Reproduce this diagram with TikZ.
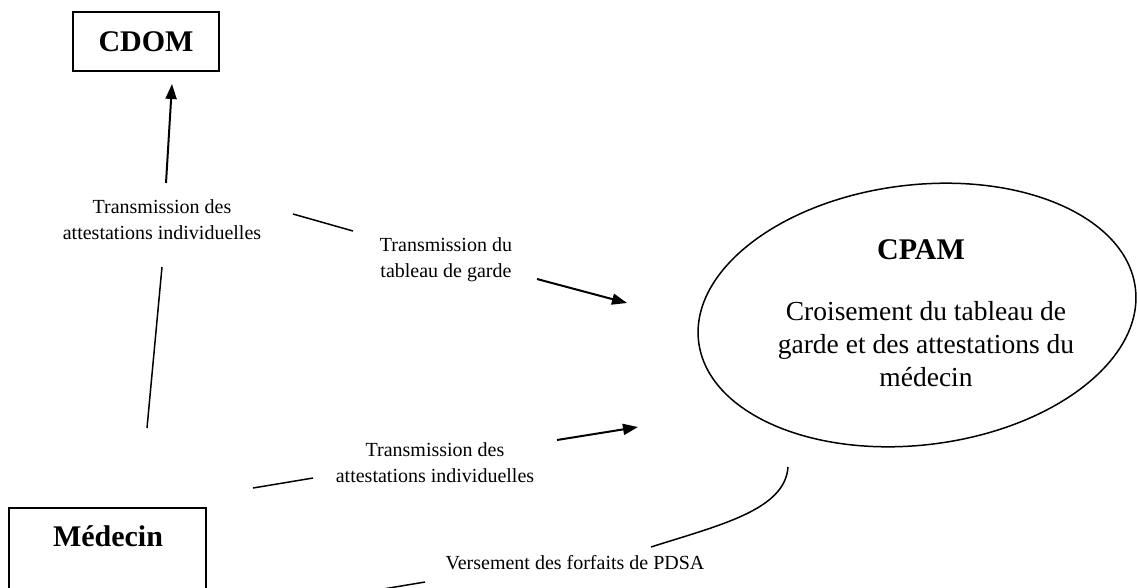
\documentclass[tikz,border=0pt]{standalone}
\usepackage{fontspec}
\setmainfont{Liberation Serif}
\usetikzlibrary{arrows.meta,shapes.geometric}
\begin{document}
\begin{tikzpicture}[x=1pt,y=-1pt,
  box/.style={draw, line width=1.6pt, inner sep=0pt},
  title/.style={font=\fontsize{30}{36}\selectfont\bfseries, inner sep=0pt},
  lbl/.style={font=\fontsize{20}{26}\selectfont, align=center, inner sep=0pt},
  body/.style={font=\fontsize{27.5}{33}\selectfont, align=center, inner sep=0pt},
  link/.style={line width=1.5pt},
  arr/.style={line width=2pt, -{Triangle[length=15pt,width=11pt]}}]
\useasboundingbox (0,0) rectangle (1137,587);
\clip (0,0) rectangle (1137,587);

% Nodes
\node[box, minimum width=146pt, minimum height=59pt] (cdom) at (146,41.5) {};
\node[title] (cdomtxt) at (146,42) {CDOM};

\node[box, minimum width=197pt, minimum height=124pt] (medecin) at (107.5,570) {};
\node[title] (medecintxt) at (108,536) {Médecin};

\node[draw, ellipse, line width=1.5pt, minimum width=440pt, minimum height=260pt,
      rotate=7, inner sep=0pt] (cpam) at (917,315) {};
\node[title] (cpamtxt) at (921,250) {CPAM};
\node[body] (cpambody) at (926,344) {Croisement du tableau de\\garde et des attestations du\\médecin};

% Labels
\node[lbl] (lab1) at (162,220) {Transmission des\\attestations individuelles};
\node[lbl] (lab2) at (446,260) {Transmission du\\tableau de garde};
\node[lbl] (lab3) at (435,463) {Transmission des\\attestations individuelles};
\node[lbl] (lab4) at (575,563) {Versement des forfaits de PDSA};

% Connector end points
\coordinate (a0) at (147,428);
\coordinate (a1) at (162,267);
\coordinate (a2) at (166,183);
\coordinate (a3) at (172,84);
\coordinate (b0) at (293,214);
\coordinate (b1) at (353,231);
\coordinate (b2) at (537,279);
\coordinate (b3) at (627,303);
\coordinate (c0) at (253,488);
\coordinate (c1) at (313,478);
\coordinate (c2) at (557,440);
\coordinate (c3) at (638,427);
\coordinate (d0) at (788,467);
\coordinate (d1) at (651,547);
\coordinate (d2) at (425,582);
\coordinate (d3) at (383,589);

% Connectors
\draw[link] (a0) -- (a1);
\draw[arr] (a2) -- (a3);
\draw[link] (b0) -- (b1);
\draw[arr] (b2) -- (b3);
\draw[link] (c0) -- (c1);
\draw[arr] (c2) -- (c3);
\draw[link] (d0) .. controls (785,510) and (720,525) .. (d1);
\draw[link] (d2) -- (d3);
\end{tikzpicture}
\end{document}
